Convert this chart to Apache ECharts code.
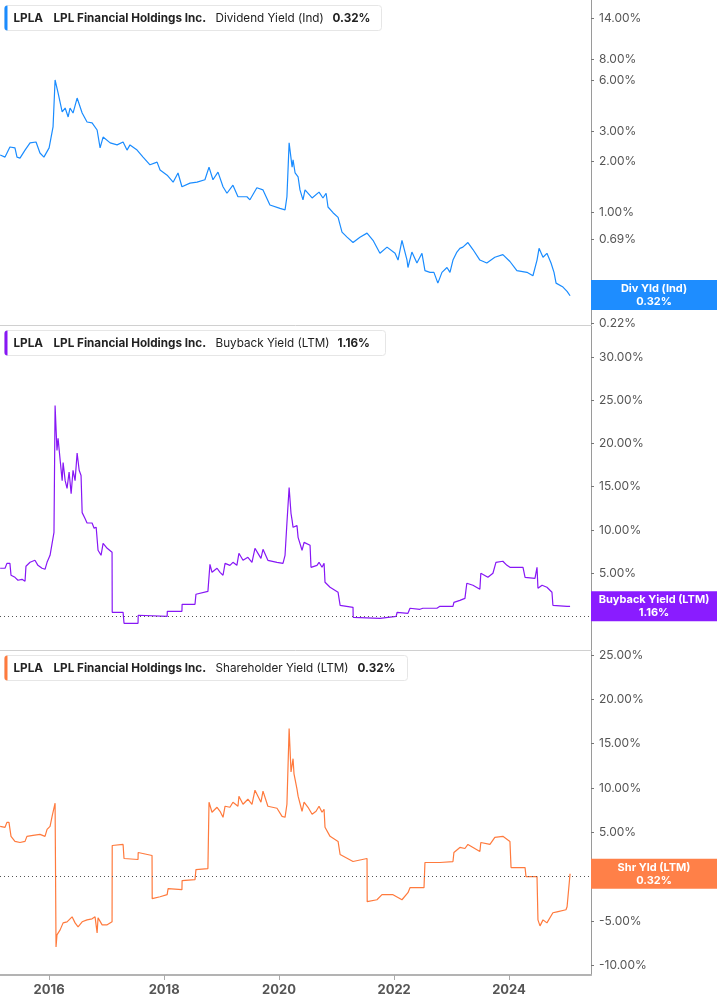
<!DOCTYPE html>
<html><head><meta charset="utf-8">
<script src="https://cdn.jsdelivr.net/npm/echarts@6/dist/echarts.min.js"></script>
<style>html,body{margin:0;padding:0;background:#fff}#c{width:717px;height:1005px}</style>
</head><body><div id="c"></div>
<script>
// ---- data (percent) ----
const divYield = [
['2015-02-24',2.17],['2015-03-27',2.11],['2015-04-27',2.42],['2015-05-29',2.39],['2015-06-11',2.11],['2015-06-30',2.08],
['2015-08-01',2.32],['2015-09-02',2.56],['2015-10-10',2.59],['2015-11-04',2.23],['2015-11-29',2.11],['2016-01-01',2.39],
['2016-01-26',3.18],['2016-02-08',6.02],['2016-02-27',5.05],['2016-03-24',3.90],['2016-04-12',4.11],['2016-05-01',3.64],
['2016-05-13',4.11],['2016-06-01',3.84],['2016-06-27',4.71],['2016-07-29',3.84],['2016-08-29',3.40],['2016-09-30',3.36],
['2016-11-01',3.05],['2016-11-20',2.39],['2016-12-09',2.77],['2017-01-23',2.56],['2017-03-08',2.49],['2017-04-15',2.59],
['2017-05-10',2.32],['2017-05-29',2.49],['2017-07-13',2.32],['2017-08-20',2.11],['2017-10-03',1.90],['2017-11-17',1.97],
['2017-12-06',1.77],['2018-01-20',1.65],['2018-02-27',1.50],['2018-03-30',1.70],['2018-04-24',1.41],['2018-06-14',1.48],
['2018-07-29',1.50],['2018-09-17',1.55],['2018-10-13',1.84],['2018-11-07',1.55],['2018-12-09',1.72],['2019-01-10',1.41],
['2019-02-04',1.29],['2019-03-14',1.44],['2019-04-15',1.23],['2019-06-11',1.23],['2019-06-30',1.18],['2019-08-13',1.39],
['2019-09-21',1.35],['2019-11-04',1.10],['2020-01-07',1.05],['2020-02-08',1.03],['2020-02-20',1.23],['2020-03-05',2.56],
['2020-03-24',1.84],['2020-03-30',2.03],['2020-04-12',1.70],['2020-05-01',1.61],['2020-05-13',1.35],['2020-06-01',1.18],
['2020-06-14',1.35],['2020-07-29',1.21],['2020-09-11',1.31],['2020-10-06',1.21],['2020-10-26',1.29],['2020-11-07',1.07],
['2020-12-09',0.99],['2021-01-10',0.93],['2021-02-04',0.76],['2021-03-08',0.71],['2021-04-15',0.66],['2021-05-29',0.71],
['2021-07-13',0.75],['2021-08-20',0.68],['2021-10-03',0.57],['2021-11-17',0.62],['2022-01-07',0.57],['2022-01-26',0.52],
['2022-02-20',0.68],['2022-03-24',0.52],['2022-03-30',0.47],['2022-04-24',0.58],['2022-05-26',0.50],['2022-06-27',0.57],
['2022-07-16',0.45],['2022-08-17',0.44],['2022-09-11',0.44],['2022-10-06',0.38],['2022-11-01',0.44],['2022-12-03',0.47],
['2022-12-22',0.44],['2023-01-10',0.52],['2023-02-04',0.58],['2023-02-23',0.61],['2023-03-14',0.62],['2023-04-15',0.66],
['2023-05-17',0.60],['2023-06-30',0.52],['2023-08-13',0.50],['2023-10-03',0.54],['2023-11-23',0.56],['2024-01-07',0.51],
['2024-02-20',0.45],['2024-04-24',0.44],['2024-06-01',0.42],['2024-06-27',0.52],['2024-07-10',0.61],['2024-08-04',0.54],
['2024-08-29',0.57],['2024-09-24',0.50],['2024-10-13',0.44],['2024-10-26',0.38],['2024-12-09',0.36],['2025-01-04',0.34],
['2025-01-23',0.32]
];
const buybackYield = [
['2015-02-24',5.56],['2015-03-27',5.56],['2015-04-08',6.13],['2015-04-27',6.13],['2015-05-04',4.75],['2015-05-29',4.51],
['2015-06-17',4.17],['2015-07-13',4.28],['2015-08-01',4.05],['2015-08-07',5.79],['2015-09-02',6.25],['2015-10-03',6.48],
['2015-10-22',5.90],['2015-11-17',5.56],['2015-12-06',5.44],['2015-12-19',6.25],['2016-01-07',7.06],['2016-01-20',8.45],
['2016-02-01',9.72],['2016-02-08',24.4],['2016-02-20',19.2],['2016-02-27',20.6],['2016-03-11',18.1],['2016-03-24',15.7],
['2016-03-30',17.8],['2016-04-12',15.7],['2016-04-24',14.8],['2016-05-07',16.7],['2016-05-20',14.2],['2016-06-01',16.9],
['2016-06-14',15.7],['2016-06-27',18.9],['2016-07-10',16.9],['2016-07-22',16.3],['2016-07-29',12.0],['2016-08-17',11.3],
['2016-08-29',10.8],['2016-09-30',10.8],['2016-10-13',10.2],['2016-10-26',10.3],['2016-11-07',7.64],['2016-11-26',7.06],
['2016-12-09',8.45],['2017-01-04',7.87],['2017-02-04',7.41],['2017-02-05',0.46],['2017-04-15',0.46],['2017-04-21',-0.81],
['2017-07-19',-0.81],['2017-07-20',0.12],['2018-01-20',0.0],['2018-01-21',0.58],['2018-04-24',0.58],['2018-04-25',1.39],
['2018-07-16',1.39],['2018-07-22',2.55],['2018-10-06',2.89],['2018-10-19',6.02],['2018-11-01',5.09],['2018-12-03',5.56],
['2018-12-22',5.09],['2019-01-10',4.75],['2019-01-23',6.13],['2019-02-23',5.90],['2019-03-14',6.25],['2019-04-08',5.90],
['2019-04-21',7.29],['2019-05-17',6.48],['2019-06-17',6.83],['2019-07-13',6.25],['2019-08-01',7.87],['2019-08-20',7.29],
['2019-09-08',6.71],['2019-09-21',7.75],['2019-10-22',6.48],['2019-12-19',6.25],['2020-01-26',6.13],['2020-02-08',7.06],
['2020-02-20',10.8],['2020-03-05',14.9],['2020-03-17',11.9],['2020-03-24',11.1],['2020-03-30',10.3],['2020-04-24',10.5],
['2020-05-01',9.14],['2020-05-26',7.64],['2020-06-08',8.56],['2020-07-16',8.22],['2020-07-22',5.67],['2020-08-29',5.90],
['2020-09-11',6.25],['2020-09-30',5.67],['2020-10-13',6.13],['2020-10-19',3.94],['2020-11-20',3.36],['2021-01-10',2.78],
['2021-01-23',1.27],['2021-04-15',1.04],['2021-04-16',-0.12],['2021-10-03',-0.23],['2021-10-10',0.0],['2022-01-14',0.0],
['2022-01-20',0.46],['2022-03-30',0.35],['2022-04-12',0.93],['2022-06-14',0.81],['2022-07-03',0.93],['2022-09-30',0.93],
['2022-10-19',1.16],['2023-01-10',1.16],['2023-01-16',1.62],['2023-02-23',1.85],['2023-03-27',2.08],['2023-04-08',3.82],
['2023-05-17',3.59],['2023-06-30',3.13],['2023-07-06',4.98],['2023-08-20',4.51],['2023-09-21',4.98],['2023-10-10',6.25],
['2023-11-23',6.37],['2023-12-19',5.90],['2024-01-07',5.67],['2024-03-30',5.67],['2024-04-12',4.51],['2024-06-14',4.40],
['2024-06-27',5.67],['2024-07-03',3.24],['2024-07-29',3.59],['2024-08-29',3.36],['2024-09-30',2.78],['2024-10-06',1.27],
['2025-01-04',1.16],['2025-01-23',1.16]
];
const shareholderYield = [
['2015-02-24',5.67],['2015-03-27',5.56],['2015-04-08',6.12],['2015-04-21',6.12],['2015-05-04',4.54],['2015-05-29',3.97],
['2015-06-30',3.85],['2015-08-01',3.97],['2015-08-13',4.54],['2015-09-21',4.65],['2015-11-04',4.76],['2015-12-06',4.54],
['2015-12-19',5.33],['2016-01-07',5.67],['2016-01-20',6.80],['2016-02-08',8.28],['2016-02-14',-7.94],['2016-02-20',-6.58],
['2016-03-11',-6.01],['2016-03-30',-5.22],['2016-04-24',-5.10],['2016-05-26',-4.54],['2016-06-14',-5.22],['2016-07-03',-5.67],
['2016-07-29',-5.10],['2016-08-29',-4.88],['2016-09-30',-4.76],['2016-10-19',-4.54],['2016-11-01',-6.35],['2016-11-07',-4.65],
['2016-12-03',-5.44],['2017-01-04',-5.44],['2017-02-04',-5.10],['2017-02-05',3.51],['2017-04-15',3.63],['2017-04-21',2.04],
['2017-07-19',1.93],['2017-07-20',2.72],['2017-10-16',2.38],['2017-10-17',-2.49],['2017-12-06',-2.27],['2018-01-20',-2.04],
['2018-01-26',-1.36],['2018-04-24',-1.47],['2018-04-25',-0.45],['2018-07-16',-0.34],['2018-07-22',0.79],['2018-10-06',0.91],
['2018-10-13',8.39],['2018-11-01',7.26],['2018-12-03',7.82],['2018-12-22',7.37],['2019-01-10',6.69],['2019-01-23',7.94],
['2019-02-23',7.82],['2019-03-14',8.39],['2019-04-15',7.94],['2019-04-21',9.07],['2019-05-17',8.16],['2019-06-17',8.73],
['2019-07-13',8.16],['2019-08-01',9.75],['2019-08-20',9.07],['2019-09-08',8.39],['2019-09-21',9.64],['2019-10-22',7.94],
['2019-12-19',7.71],['2020-01-20',6.80],['2020-02-08',6.69],['2020-02-20',8.16],['2020-03-05',16.7],['2020-03-17',11.8],
['2020-03-30',13.3],['2020-04-05',11.6],['2020-04-24',9.86],['2020-05-01',9.07],['2020-05-26',7.37],['2020-06-08',8.39],
['2020-07-03',7.82],['2020-07-29',7.03],['2020-08-23',7.37],['2020-09-11',7.94],['2020-09-30',7.26],['2020-10-13',7.60],
['2020-10-19',5.56],['2020-11-20',4.54],['2021-01-10',3.97],['2021-01-23',2.49],['2021-04-15',1.70],['2021-07-13',2.04],
['2021-07-14',-2.83],['2021-09-14',-2.61],['2021-10-16',-2.04],['2021-12-25',-2.04],['2022-02-20',-2.61],['2022-03-30',-1.81],
['2022-04-12',-1.25],['2022-07-10',-1.25],['2022-07-16',1.59],['2022-10-19',1.59],['2023-01-10',1.70],['2023-01-16',2.72],
['2023-02-23',3.29],['2023-03-27',3.17],['2023-04-15',3.63],['2023-06-30',2.83],['2023-07-06',3.85],['2023-09-02',3.63],
['2023-10-03',4.42],['2023-11-23',4.54],['2024-01-07',3.97],['2024-01-14',1.02],['2024-04-12',1.02],['2024-04-18',0.0],
['2024-06-27',0.0],['2024-07-03',-4.88],['2024-07-16',-5.56],['2024-08-04',-4.88],['2024-08-29',-5.22],['2024-10-06',-4.08],
['2024-11-01',-3.97],['2024-12-28',-3.74],['2025-01-04',-3.40],['2025-01-23',0.32]
];
const divTicks = [14, 8, 6, 3, 2, 1, 0.69, 0.37, 0.22];
const buybackTicks = [0, 5, 10, 15, 20, 25, 30];
const shrTicks = [-10, -5, 0, 5, 10, 15, 20, 25];
const yearTicks = ['2016-01-01', '2018-01-01', '2020-01-01', '2022-01-01', '2024-01-01'];
const colors = { div: '#1a8cff', buy: '#8717f5', shr: '#ff7a3d' };
const boxColors = { div: '#1e8dff', buy: '#8a1cff', shr: '#ff8048' };

// ---- build ----
const chart = echarts.init(document.getElementById('c'), null, { renderer: 'canvas' });
const FONT = 'Inter, Roboto, sans-serif';
const ts = s => { const p = s.split('-').map(Number); return Date.UTC(p[0], p[1] - 1, p[2]); };
const xMin = ts('2015-02-23'), xMax = ts('2025-06-05');
const yearVals = yearTicks.map(ts);
const lg = Math.log10;

function xAxis(i, bottom) {
  return {
    type: 'value', gridIndex: i, min: xMin, max: xMax, position: 'bottom',
    axisLine: { show: true, onZero: false, lineStyle: { color: bottom ? '#b3b3b3' : '#d0d0d0', width: bottom ? 2 : 1 } },
    axisTick: { show: bottom, length: 5, customValues: yearVals, lineStyle: { color: '#aaa', width: 1 } },
    axisLabel: { show: bottom, customValues: yearVals, formatter: v => String(new Date(v).getUTCFullYear()),
      color: '#555', fontWeight: 'bold', fontSize: 13, fontFamily: FONT, margin: 9 },
    splitLine: { show: false }
  };
}
function yAxis(i, min, max, ticks, fmt) {
  return {
    type: 'value', gridIndex: i, position: 'right', min: min, max: max,
    axisLine: { show: true, onZero: false, lineStyle: { color: '#9a9a9a', width: 1 } },
    axisTick: { show: true, length: 3, customValues: ticks, lineStyle: { color: '#777' } },
    axisLabel: { show: true, customValues: ticks, formatter: fmt, color: '#555', fontSize: 12, fontFamily: FONT, margin: 8 },
    splitLine: { show: false }
  };
}
function endLabel(value, title, valText, color) {
  return {
    yAxis: value,
    lineStyle: { width: 0, color: 'rgba(0,0,0,0)' },
    label: {
      show: true, position: 'end', distance: 0,
      formatter: '{a|' + title + '}\n{a|' + valText + '}',
      backgroundColor: color, padding: [2, 0, 2, 0],
      rich: { a: { width: 126, align: 'center', color: '#fff', fontWeight: 'bold', fontSize: 11, lineHeight: 13, fontFamily: FONT } }
    }
  };
}
const zeroLine = { yAxis: 0, lineStyle: { type: [1, 3], color: '#555', width: 1 }, label: { show: false } };

function legendBox(top, width, color, metric, value, valueX) {
  const t = (x, text, bold) => ({ type: 'text', x: x, y: 12.5,
    style: { text: text, font: (bold ? 'bold ' : '') + '11.7px ' + FONT, fill: '#222', verticalAlign: 'middle', align: 'left' } });
  return { type: 'group', left: 4, top: top, z: 100, children: [
    { type: 'rect', shape: { x: 0, y: 0, width: width, height: 25, r: 3 }, style: { fill: '#fff', stroke: '#e6e6e6', lineWidth: 1 } },
    { type: 'rect', shape: { x: 0, y: 0, width: 3, height: 25, r: [3, 0, 0, 3] }, style: { fill: color } },
    t(9, 'LPLA', true), t(49, 'LPL Financial Holdings Inc.', true), t(211, metric, false), t(valueX, value, true)
  ] };
}

const lastDiv = divYield[divYield.length - 1][1];
const lastBuy = buybackYield[buybackYield.length - 1][1];
const lastShr = shareholderYield[shareholderYield.length - 1][1];
const pct = v => v.toFixed(2) + '%';
const toXY = (arr, f) => arr.map(d => [ts(d[0]), f ? f(d[1]) : d[1]]);

const option = {
  animation: false,
  backgroundColor: '#fff',
  grid: [
    { left: 0, top: 0, width: 591, height: 325, outerBoundsMode: 'none', containLabel: false },
    { left: 0, top: 326, width: 591, height: 324, outerBoundsMode: 'none', containLabel: false },
    { left: 0, top: 651, width: 591, height: 324, outerBoundsMode: 'none', containLabel: false }
  ],
  xAxis: [xAxis(0, false), xAxis(1, false), xAxis(2, true)],
  yAxis: [
    yAxis(0, lg(0.215), lg(17.87), divTicks.map(lg), v => {
      const raw = Math.pow(10, v); const t = divTicks.reduce((a, b) => Math.abs(b - raw) < Math.abs(a - raw) ? b : a);
      return t.toFixed(2) + '%'; }),
    yAxis(1, -3.9, 33.6, buybackTicks, v => v.toFixed(2) + '%'),
    yAxis(2, -11.1, 25.45, shrTicks, v => v.toFixed(2) + '%')
  ],
  graphic: [
    legendBox(5, 377, colors.div, 'Dividend Yield (Ind)', pct(lastDiv), 328),
    legendBox(330, 381, colors.buy, 'Buyback Yield (LTM)', pct(lastBuy), 333),
    legendBox(655, 403, colors.shr, 'Shareholder Yield (LTM)', pct(lastShr), 353)
  ],
  series: [
    { type: 'line', xAxisIndex: 0, yAxisIndex: 0, data: toXY(divYield, lg),
      showSymbol: false, lineStyle: { color: colors.div, width: 1.2 }, itemStyle: { color: colors.div },
      markLine: { silent: true, symbol: 'none', animation: false, data: [endLabel(lg(lastDiv), 'Div Yld (Ind)', pct(lastDiv), boxColors.div)] } },
    { type: 'line', xAxisIndex: 1, yAxisIndex: 1, data: toXY(buybackYield),
      showSymbol: false, lineStyle: { color: colors.buy, width: 1.2 }, itemStyle: { color: colors.buy },
      markLine: { silent: true, symbol: 'none', animation: false, data: [zeroLine, endLabel(lastBuy, 'Buyback Yield (LTM)', pct(lastBuy), boxColors.buy)] } },
    { type: 'line', xAxisIndex: 2, yAxisIndex: 2, data: toXY(shareholderYield),
      showSymbol: false, lineStyle: { color: colors.shr, width: 1.2 }, itemStyle: { color: colors.shr },
      markLine: { silent: true, symbol: 'none', animation: false, data: [zeroLine, endLabel(lastShr, 'Shr Yld (LTM)', pct(lastShr), boxColors.shr)] } }
  ]
};
chart.setOption(option);
</script></body></html>
